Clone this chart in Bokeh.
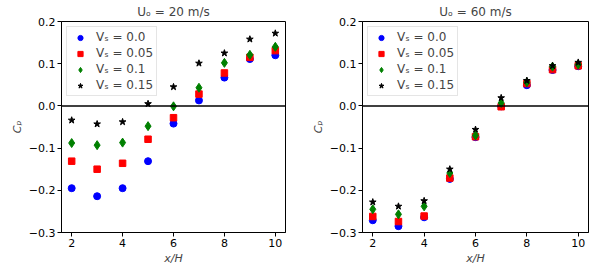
from bokeh.plotting import figure
from bokeh.layouts import row
from bokeh.models import Span, FixedTicker, Legend, LegendItem
from bokeh.embed import file_html
from bokeh.resources import INLINE

x_pos = [2, 3, 4, 5, 6, 7, 8, 9, 10]

# U_o = 20 m/s
u20_vs000 = [-0.195, -0.214, -0.195, -0.131, -0.042, 0.013, 0.067, 0.111, 0.120]
u20_vs005 = [-0.131, -0.150, -0.136, -0.079, -0.028, 0.028, 0.078, 0.115, 0.131]
u20_vs010 = [-0.088, -0.093, -0.087, -0.048, -0.001, 0.043, 0.102, 0.121, 0.140]
u20_vs015 = [-0.034, -0.043, -0.038, 0.005, 0.045, 0.101, 0.125, 0.158, 0.172]

# U_o = 60 m/s
u60_vs000 = [-0.271, -0.285, -0.264, -0.173, -0.074, -0.001, 0.049, 0.085, 0.094]
u60_vs005 = [-0.262, -0.274, -0.261, -0.171, -0.073, -0.002, 0.053, 0.086, 0.095]
u60_vs010 = [-0.245, -0.257, -0.238, -0.159, -0.070, 0.007, 0.056, 0.093, 0.098]
u60_vs015 = [-0.228, -0.238, -0.225, -0.150, -0.056, 0.019, 0.060, 0.095, 0.103]

series_labels = ["Vₛ = 0.0", "Vₛ = 0.05", "Vₛ = 0.1", "Vₛ = 0.15"]
titles = ["Uₒ = 20 m/s", "Uₒ = 60 m/s"]
x_ticks = [2, 4, 6, 8, 10]
y_ticks = [-0.3, -0.2, -0.1, 0.0, 0.1, 0.2]
y_tick_labels = ["−0.3", "−0.2", "−0.1", "0.0", "0.1", "0.2"]
x_label = "x/H"
y_label = "Cₚ"

FONT = "DejaVu Sans"


def make_panel(title, series, width, border_left, border_right):
    p = figure(width=width, height=267, output_backend="svg", toolbar_location=None,
               x_range=(1.6, 10.4), y_range=(-0.3, 0.2), title=title,
               min_border_left=border_left, min_border_right=border_right,
               min_border_top=19, min_border_bottom=35)
    p.title.align = "center"
    p.title.text_font = FONT
    p.title.text_font_size = "12px"
    p.title.text_font_style = "normal"
    p.title.standoff = 5
    p.title.offset = 0
    p.grid.visible = False
    p.outline_line_color = "black"
    p.outline_line_alpha = 1
    p.outline_line_width = 1
    p.background_fill_color = "white"
    p.border_fill_color = "white"

    p.xaxis.ticker = FixedTicker(ticks=x_ticks)
    p.yaxis.ticker = FixedTicker(ticks=y_ticks)
    p.yaxis.major_label_overrides = {t: l for t, l in zip(y_ticks, y_tick_labels)}
    for ax in (p.xaxis[0], p.yaxis[0]):
        ax.major_tick_out = 4
        ax.major_tick_in = 0
        ax.minor_tick_out = 0
        ax.minor_tick_in = 0
        ax.axis_line_color = "black"
        ax.major_tick_line_color = "black"
        ax.major_label_text_font = FONT
        ax.major_label_text_font_size = "11px"
        ax.major_label_text_color = "black"
        ax.major_label_standoff = 2
        ax.axis_label_text_font = FONT
        ax.axis_label_text_font_size = "11px"
        ax.axis_label_text_font_style = "italic"
        ax.axis_label_standoff = 2
    p.xaxis.axis_label = x_label
    p.yaxis.axis_label = y_label
    p.xaxis.axis_label_standoff = 2

    p.add_layout(Span(location=0, dimension="width", line_color="black", line_width=1.5))

    r0 = p.scatter(x_pos, series[0], marker="circle", size=7, color="#0000ff", line_color="#0000ff")
    r1 = p.scatter(x_pos, series[1], marker="square", size=6.5, color="#ff0000", line_color="#ff0000")
    r2 = p.scatter(x_pos, series[2], marker="diamond", size=9, color="#008000", line_color="#008000")
    r3 = p.scatter(x_pos, series[3], marker="star", size=7, color="black", line_color="black")

    legend = Legend(items=[LegendItem(label=series_labels[i], renderers=[r])
                           for i, r in enumerate([r0, r1, r2, r3])],
                    location="top_left")
    legend.margin = 5
    legend.padding = 3
    legend.spacing = 2
    legend.label_text_font = FONT
    legend.label_text_font_size = "12px"
    legend.label_height = 13
    legend.glyph_height = 13
    legend.glyph_width = 20
    legend.label_standoff = 6
    legend.border_line_color = "#cccccc"
    legend.border_line_width = 1
    legend.background_fill_alpha = 0.8
    p.add_layout(legend)
    return p


p1 = make_panel(titles[0], [u20_vs000, u20_vs005, u20_vs010, u20_vs015], 300, 61, 15)
p2 = make_panel(titles[1], [u60_vs000, u60_vs005, u60_vs010, u60_vs015], 300, 62, 12)

layout = row(p1, p2)
open("out.html", "w").write(file_html(layout, INLINE))
